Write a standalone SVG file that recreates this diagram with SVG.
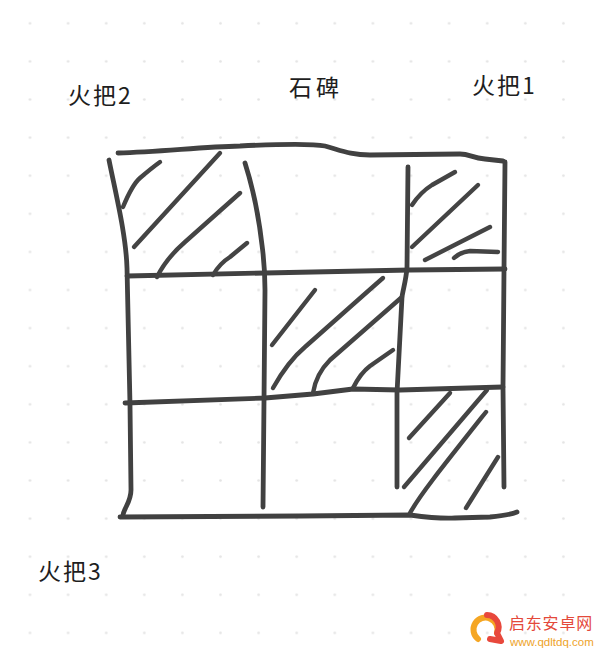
<svg xmlns="http://www.w3.org/2000/svg" width="600" height="651" viewBox="0 0 600 651">
  <defs>
    <pattern id="dots" patternUnits="userSpaceOnUse" x="10.95" y="4.25" width="38.1" height="38.1">
      <circle cx="19.05" cy="19.05" r="1.3" fill="#e4e4e4"/>
    </pattern>
    <style>
      .ink { fill: none; stroke: #414141; stroke-width: 4.8; stroke-linecap: round; stroke-linejoin: round; }
      .hatch { fill: none; stroke: #444444; stroke-width: 4.4; stroke-linecap: round; stroke-linejoin: round; }
      .label { font-family: "Noto Sans CJK SC", "Liberation Sans", sans-serif; font-size: 23px; fill: #1e1e1e; }
    </style>
  </defs>
  <rect width="600" height="651" fill="#ffffff"/>
  <rect width="600" height="651" fill="url(#dots)"/>

  <g id="label-torch2"><text class="label" x="68" y="104" letter-spacing="2">火把2</text></g>
  <g id="label-stele"><text class="label" x="289" y="96" letter-spacing="4">石碑</text></g>
  <g id="label-torch1"><text class="label" x="472" y="94" letter-spacing="2">火把1</text></g>
  <g id="label-torch3"><text class="label" x="38" y="580" letter-spacing="2">火把3</text></g>

  <g id="grid">
    <path class="ink" d="M118,153 C160,152 200,147 240,146 C280,144 310,143 325,146 C340,150 350,155 370,155 L460,154 C470,154 472,158 485,159 L503,161"/>
    <path class="ink" d="M109,160 C116,195 126,235 127,268 L130,405 L131,490 C131,502 124,508 123,515"/>
    <path class="ink" d="M120,517 L300,516 L410,515 C425,517 440,519 455,518 L490,517 C500,516 510,515 517,512"/>
    <path class="ink" d="M127,276 L265,273 L410,270 L505,269"/>
    <path class="ink" d="M125,403 L265,398 L313,394 L353,389 L400,390 L503,387"/>
    <path class="ink" d="M245,163 C252,185 258,210 262,245 C264,260 265,275 265,290 L264,400 L263,507"/>
    <path class="ink" d="M408,167 L407,268 C406,280 403,290 402,297 L397,393 L397,487"/>
    <path class="ink" d="M505,162 L504,270 L503,387 L504,487"/>
  </g>

  <g id="hatch-top-left">
    <path class="hatch" d="M123,207 C128,195 133,184 140,178 C147,172 153,167 160,162"/>
    <path class="hatch" d="M134,247 L220,153"/>
    <path class="hatch" d="M157,277 C163,265 170,255 185,242 L240,193"/>
    <path class="hatch" d="M213,275 C217,268 222,262 230,257 L247,243"/>
  </g>
  <g id="hatch-top-right">
    <path class="hatch" d="M412,205 C418,196 424,190 432,185 L455,172"/>
    <path class="hatch" d="M412,247 L478,185"/>
    <path class="hatch" d="M425,260 L490,227"/>
    <path class="hatch" d="M454,258 C458,254 462,252 470,251 L498,252"/>
  </g>
  <g id="hatch-center">
    <path class="hatch" d="M272,345 L315,290"/>
    <path class="hatch" d="M273,388 C282,372 292,358 305,347 C330,325 360,298 383,278"/>
    <path class="hatch" d="M313,393 C315,380 320,370 330,360 L402,297"/>
    <path class="hatch" d="M353,388 C358,378 362,372 370,366 L393,350"/>
  </g>
  <g id="hatch-bottom-right">
    <path class="hatch" d="M409,438 L450,393"/>
    <path class="hatch" d="M404,487 L487,390"/>
    <path class="hatch" d="M410,513 C420,495 440,470 486,412"/>
    <path class="hatch" d="M466,508 L498,457"/>
  </g>

  <g id="watermark">
    <path d="M478,639 A12,12 0 1 1 497,633" fill="none" stroke="#f5a623" stroke-width="6" stroke-linecap="round"/>
    <path d="M487,615 A12,12 0 0 1 497,633 L501,641 L490,639" fill="none" stroke="#e8483c" stroke-width="6" stroke-linecap="round" stroke-linejoin="round"/>
    <text x="509" y="629" font-family="Noto Sans CJK SC, Liberation Sans, sans-serif" font-size="16" fill="#e4493b" letter-spacing="0.8">启东安卓网</text>
    <text x="510" y="646" font-family="Liberation Sans, Arial, sans-serif" font-size="11.5" fill="#eea32a">www.qdltdq.com</text>
  </g>
</svg>
